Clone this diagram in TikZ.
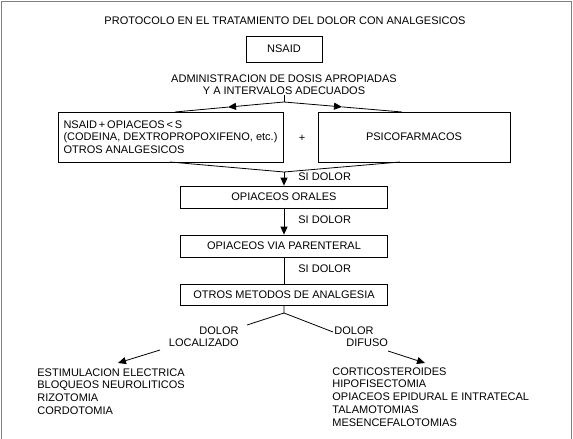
\documentclass[tikz,border=0pt]{standalone}
\usepackage{fontspec}
\setmainfont{Liberation Sans}
\usetikzlibrary{arrows.meta,positioning}

\begin{document}
\begin{tikzpicture}[x=1pt,y=-1pt,>={Triangle[length=8pt,width=7pt]},
  font=\fontsize{11}{12.4}\selectfont, line width=0.8pt,
  box/.style={draw,inner sep=0pt,minimum width=207pt,minimum height=22pt},
  lbl/.style={inner sep=0pt},
  list/.style={inner sep=0pt,align=left,anchor=north west,font=\fontsize{11}{12.9}\selectfont}]
  \useasboundingbox (0,0) rectangle (573,439);
  \draw[gray,line width=1pt] (1,1.5) rectangle (571.5,450);
  % cabecera
  \node[lbl] (title) at (285,21) {PROTOCOLO EN EL TRATAMIENTO DEL DOLOR CON ANALGESICOS};
  \node[box,minimum width=76pt,minimum height=26pt] (nsaid) at (284,49) {NSAID};
  \node[lbl,align=center] (admin) at (284,85) {ADMINISTRACION DE DOSIS APROPIADAS\\Y A INTERVALOS ADECUADOS};
  % primer escalon
  \node[box,minimum width=225pt,minimum height=50pt,align=left] (lbox) at (170.5,137)
    {NSAID\,+\,OPIACEOS\,<\,S\\(CODEINA, DEXTROPROPOXIFENO, etc.)\\OTROS ANALGESICOS};
  \node[box,minimum width=192pt,minimum height=50pt] (rbox) at (414,137) {PSICOFARMACOS};
  \node[lbl] (plus) at (302,138) {+};
  \coordinate (s1) at (284,102);
  \coordinate (m1) at (228,107.1);
  \coordinate (e1) at (175,112);
  \coordinate (m2) at (342,106.9);
  \coordinate (e2) at (402,112);
  \draw (admin.south) -- (s1);
  \draw[->] (s1) -- (m1);
  \draw (m1) -- (e1);
  \draw[->] (s1) -- (m2);
  \draw (m2) -- (e2);
  % escalones siguientes
  \node[box] (oral) at (284,197) {OPIACEOS ORALES};
  \node[box] (paren) at (284,246) {OPIACEOS VIA PARENTERAL};
  \node[box,minimum height=21pt] (otros) at (284,294.5) {OTROS METODOS DE ANALGESIA};
  \coordinate (b1) at (170,162);
  \coordinate (b2) at (400,162);
  \coordinate (j1) at (284,172);
  \draw (b1) -- (j1) -- (b2);
  \draw[->] (j1) -- (oral);
  \draw[->] (oral) -- (paren);
  \draw (paren) -- (otros);
  \node[lbl,anchor=west] (si1) at (298,177) {SI DOLOR};
  \node[lbl,anchor=west] (si2) at (298,220) {SI DOLOR};
  \node[lbl,anchor=west] (si3) at (298,269) {SI DOLOR};
  % dolor localizado / difuso
  \coordinate (s2) at (284,313);
  \coordinate (e3) at (247,325);
  \coordinate (e4) at (333,332);
  \draw (otros) -- (s2) -- (e3);
  \draw (s2) -- (e4);
  \node[lbl,align=right,anchor=east] (loc) at (239,337) {DOLOR\\LOCALIZADO\hspace{7pt}};
  \node[lbl,align=left,anchor=west] (dif) at (334,337) {DOLOR\\\hspace{12pt}DIFUSO};
  \coordinate (a1) at (160,350);
  \coordinate (a2) at (118,363);
  \coordinate (a3) at (388,351);
  \coordinate (a4) at (425,363);
  \draw[->] (a1) -- (a2);
  \draw[->] (a3) -- (a4);
  \node[list] (llist) at (37,368) {ESTIMULACION ELECTRICA\\BLOQUEOS NEUROLITICOS\\RIZOTOMIA\\CORDOTOMIA};
  \node[list] (rlist) at (332,367) {CORTICOSTEROIDES\\HIPOFISECTOMIA\\OPIACEOS EPIDURAL E INTRATECAL\\TALAMOTOMIAS\\MESENCEFALOTOMIAS};
\end{tikzpicture}
\end{document}
